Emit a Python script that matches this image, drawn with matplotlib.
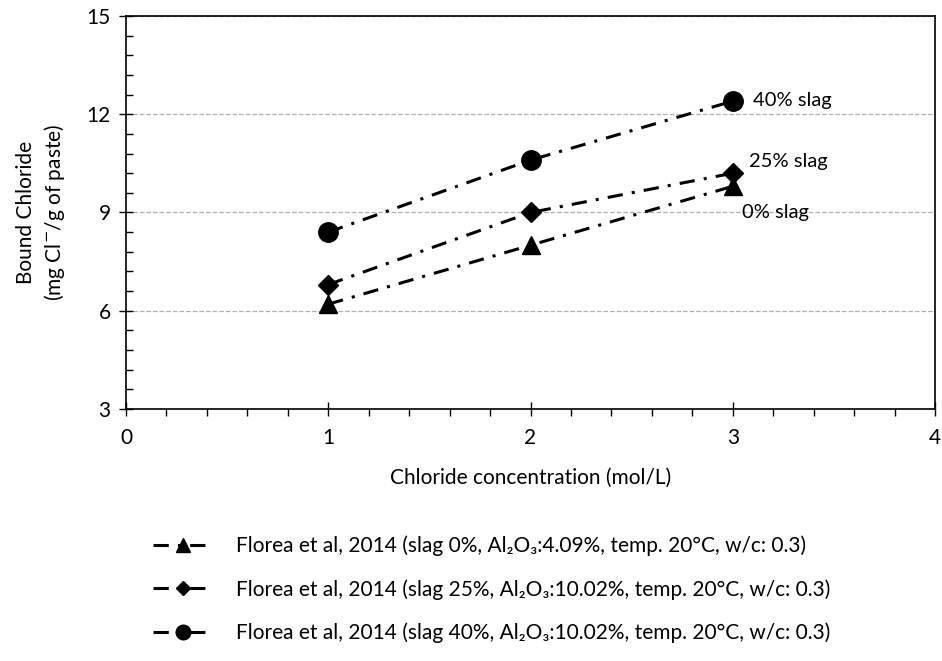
import matplotlib
matplotlib.use("Agg")
import matplotlib.pyplot as plt
from matplotlib.ticker import MultipleLocator

plt.rcParams["font.family"] = ["Lato", "DejaVu Sans"]

conc = [1, 2, 3]
slag0 = [6.2, 8.0, 9.8]
slag25 = [6.8, 9.0, 10.2]
slag40 = [8.4, 10.6, 12.4]

series_labels = [
    "Florea et al, 2014 (slag 0%, Al\u2082O\u2083:4.09%, temp. 20\u00b0C, w/c: 0.3)",
    "Florea et al, 2014 (slag 25%, Al\u2082O\u2083:10.02%, temp. 20\u00b0C, w/c: 0.3)",
    "Florea et al, 2014 (slag 40%, Al\u2082O\u2083:10.02%, temp. 20\u00b0C, w/c: 0.3)",
]
annotations = ["0% slag", "25% slag", "40% slag"]

fig = plt.figure(figsize=(9.42, 6.61), dpi=100)
ax = fig.add_axes([0.1338, 0.3813, 0.8588, 0.5945])

dash = (0, (5, 3, 1, 3))
ax.plot(conc, slag0, linestyle=dash, color="black", lw=2.2, marker="^", ms=13, label=series_labels[0])
ax.plot(conc, slag25, linestyle=dash, color="black", lw=2.2, marker="D", ms=10, label=series_labels[1])
ax.plot(conc, slag40, linestyle=dash, color="black", lw=2.2, marker="o", ms=14, label=series_labels[2])

ax.text(3.045, 9.0, annotations[0], fontsize=14.5, va="center", ha="left")
ax.text(3.08, 10.55, annotations[1], fontsize=14.5, va="center", ha="left")
ax.text(3.10, 12.42, annotations[2], fontsize=14.5, va="center", ha="left")

ax.set_xlim(0, 4)
ax.set_ylim(3, 15)
ax.xaxis.set_major_locator(MultipleLocator(1))
ax.xaxis.set_minor_locator(MultipleLocator(0.2))
ax.yaxis.set_major_locator(MultipleLocator(3))
ax.yaxis.set_minor_locator(MultipleLocator(0.6))
ax.tick_params(axis="x", which="major", direction="inout", length=10, width=1, labelsize=15, pad=9)
ax.tick_params(axis="x", which="minor", direction="out", length=5, width=1)
ax.tick_params(axis="y", which="major", direction="inout", length=10, width=1, labelsize=15, pad=6)
ax.tick_params(axis="y", which="minor", direction="in", length=5, width=1)
ax.grid(axis="y", which="major", linestyle="--", color="#b0b0b0", lw=0.9)
ax.set_axisbelow(True)
for s in ax.spines.values():
    s.set_linewidth(1.2)

ax.set_xlabel("Chloride concentration (mol/L)", fontsize=15, labelpad=14)
ax.set_ylabel("Bound Chloride\n(mg Cl$^{-}$/g of paste)", fontsize=15, labelpad=14,
              linespacing=1.3)

fig.legend(loc="upper left", bbox_to_anchor=(0.142, 0.218), frameon=False,
           fontsize=15, handlelength=2.9, labelspacing=1.1, handletextpad=1.1,
           markerscale=0.75)

fig.savefig("out.png", dpi=100)
